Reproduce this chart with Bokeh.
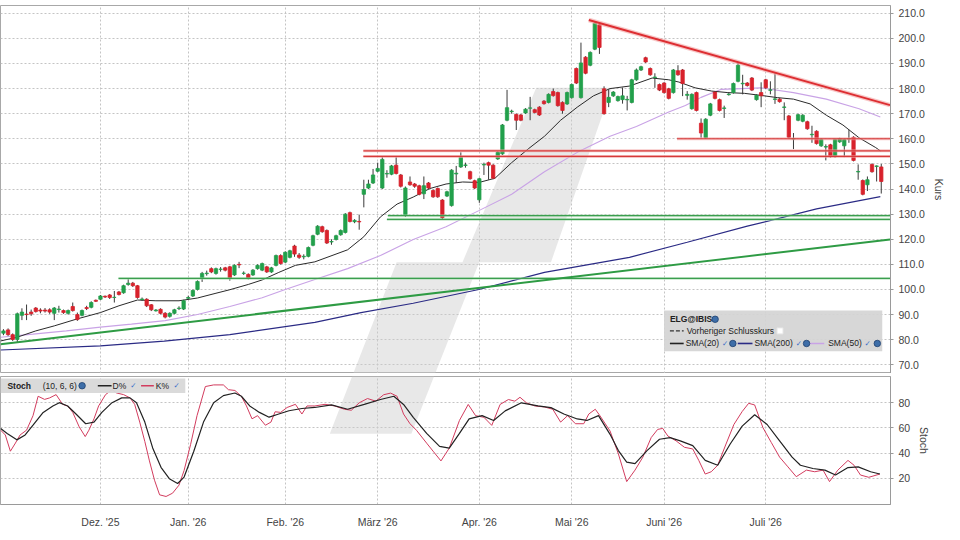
from bokeh.plotting import figure
from bokeh.layouts import column
from bokeh.models import FixedTicker, NumeralTickFormatter, Range1d
from bokeh.core.properties import value
from bokeh.embed import file_html
from bokeh.resources import INLINE

# ---------------- data ----------------
first_day = -21
opens = [82.6, 83.9, 82.0, 80.1, 89.7, 90.2, 91.0, 92.6, 91.8, 91.8, 91.9, 90.5, 92.0, 91.6, 90.5, 93.2, 90.0, 89.7, 92.8, 92.9, 95.7,
         96.1, 97.3, 97.8, 96.8, 99.0, 98.7, 102.0, 102.5, 101.5, 96.0, 96.1, 93.9, 91.5, 92.1, 90.5, 89.3, 90.5, 92.4, 92.2, 96.5,
         97.4, 100.0, 104.5, 106.3, 108.3, 106.4, 108.0, 108.6, 109.0, 105.8, 110.0, 106.4, 106.0, 105.8, 108.3, 107.7, 109.0, 107.0,
         109.6, 113.5, 110.9, 112.8, 117.3, 113.7, 113.0, 113.2, 117.6, 122.0, 125.0, 123.5, 118.9, 119.9, 121.8, 122.7, 130.6, 127.0,
         127.1, 137.9, 140.4, 142.4, 147.1, 140.4, 146.0, 145.9, 149.5, 145.6, 129.5, 142.8, 142.0, 141.3, 138.1, 142.4, 139.4, 140.2,
         135.6, 137.2, 133.4, 146.0, 148.8, 149.4, 146.9, 143.3, 135.7, 149.6, 150.5, 149.5, 152.0, 154.0, 167.4, 170.8, 169.7, 169.5,
         170.3, 172.2, 171.6, 172.6, 175.0, 174.5, 178.8, 178.4, 174.5, 173.9, 176.4, 188.0, 176.4, 192.5, 189.3, 195.7, 205.4, 179.9,
         174.5, 177.1, 175.2, 175.6, 175.5, 174.5, 183.5, 187.4, 192.3, 188.0, 184.4, 181.6, 182.2, 179.9, 178.4, 187.1, 187.4, 177.3,
         172.0, 178.4, 166.2, 160.4, 169.4, 178.6, 175.6, 172.1, 177.6, 178.4, 182.9, 181.9, 182.2, 184.2, 175.6, 178.4, 183.5, 179.3,
         175.7, 175.8, 172.5, 169.1, 159.9, 167.4, 167.0, 166.8, 161.6, 163.0, 157.2, 156.7, 157.6, 152.9, 158.8, 157.2, 159.9, 160.6,
         146.8, 143.4, 141.7, 149.8, 149.0, 148.8]
highs = [84.2, 84.5, 82.5, 90.8, 92.5, 94.0, 92.0, 93.0, 92.5, 92.6, 92.5, 93.0, 93.5, 92.0, 92.0, 94.8, 90.8, 92.0, 93.5, 95.3, 96.0,
         97.8, 97.6, 98.2, 99.4, 99.4, 101.9, 104.5, 103.0, 101.8, 96.8, 96.5, 94.2, 92.2, 92.5, 91.0, 90.9, 92.3, 93.3, 95.9, 97.5,
         100.0, 103.6, 107.0, 107.5, 108.8, 108.7, 108.9, 109.0, 109.4, 110.0, 111.0, 107.2, 106.4, 108.1, 110.0, 110.7, 109.4, 109.0,
         113.9, 114.0, 115.2, 115.8, 117.8, 114.5, 114.0, 117.1, 121.8, 125.6, 125.4, 123.9, 120.0, 121.8, 123.9, 130.4, 131.0, 128.0,
         129.8, 143.7, 143.7, 148.0, 150.5, 152.7, 147.5, 149.6, 152.7, 146.0, 141.0, 145.0, 142.4, 141.7, 145.0, 142.8, 139.8, 140.6,
         136.0, 139.3, 147.9, 149.2, 154.6, 150.5, 147.3, 143.7, 144.5, 150.5, 150.9, 149.9, 155.0, 165.9, 179.5, 171.6, 170.1, 169.9,
         172.2, 176.7, 172.0, 173.0, 175.4, 178.1, 180.0, 178.8, 174.9, 178.8, 182.0, 188.4, 198.3, 192.9, 194.8, 206.4, 205.8, 180.9,
         179.6, 179.0, 177.2, 180.4, 177.1, 183.9, 188.0, 189.1, 192.7, 188.4, 186.1, 182.0, 182.6, 180.3, 187.8, 189.3, 187.8, 179.0,
         178.1, 178.8, 168.1, 168.2, 174.3, 179.0, 176.0, 173.2, 178.2, 182.4, 190.2, 185.5, 182.6, 184.6, 177.7, 182.5, 183.9, 182.9,
         186.1, 176.2, 174.5, 169.5, 162.3, 170.0, 169.8, 167.2, 165.2, 163.4, 160.1, 157.8, 158.0, 160.1, 160.4, 160.1, 163.6, 161.0,
         149.8, 143.8, 145.0, 150.2, 149.4, 150.0]
lows = [81.8, 81.5, 79.5, 79.0, 87.8, 87.8, 89.5, 90.8, 90.5, 90.8, 90.3, 87.8, 90.8, 90.3, 90.0, 91.2, 87.5, 89.3, 91.8, 92.5, 95.0,
        95.8, 96.6, 96.2, 94.8, 97.6, 98.3, 101.5, 101.0, 96.3, 95.5, 93.0, 91.4, 91.2, 90.1, 88.5, 88.8, 90.1, 91.8, 91.8, 96.0,
        97.0, 99.6, 103.0, 105.5, 106.5, 105.9, 107.1, 107.2, 103.5, 105.4, 108.5, 105.8, 104.0, 105.4, 107.9, 107.3, 106.6, 106.6,
        109.2, 109.9, 110.5, 112.4, 113.0, 112.2, 112.0, 112.8, 117.2, 121.6, 122.6, 118.1, 117.8, 119.5, 121.4, 122.3, 126.7, 126.4,
        123.8, 132.7, 140.0, 142.0, 146.7, 140.0, 144.5, 145.5, 145.8, 140.6, 128.9, 141.3, 140.5, 137.5, 136.0, 140.0, 136.5, 136.5,
        128.0, 136.8, 133.0, 142.4, 148.4, 148.5, 143.7, 140.0, 134.5, 145.6, 143.7, 143.9, 151.6, 153.6, 167.0, 170.0, 163.5, 167.0,
        169.9, 167.4, 170.1, 169.1, 173.6, 174.1, 176.8, 172.8, 170.0, 173.5, 176.0, 181.8, 176.0, 185.7, 188.9, 195.3, 193.8, 169.6,
        172.6, 176.7, 174.8, 174.0, 171.3, 174.1, 183.1, 187.0, 190.2, 185.1, 180.3, 179.0, 178.0, 175.7, 178.0, 185.1, 177.0, 175.6,
        171.6, 170.9, 160.4, 160.0, 169.0, 175.7, 170.9, 168.3, 177.2, 178.0, 182.5, 177.7, 180.8, 179.0, 175.2, 172.6, 179.9, 177.7,
        173.9, 174.4, 167.4, 160.2, 155.9, 167.0, 166.6, 163.6, 158.4, 157.7, 156.8, 151.4, 152.5, 152.5, 158.4, 152.7, 158.4, 151.0,
        143.7, 137.5, 139.2, 146.5, 143.0, 138.2]
closes = [83.5, 82.0, 80.1, 90.3, 91.0, 90.0, 90.3, 91.2, 91.4, 91.4, 91.0, 92.6, 92.2, 90.8, 91.6, 91.6, 88.0, 91.6, 92.4, 94.8, 95.3,
          97.4, 97.0, 96.8, 96.9, 98.0, 101.5, 102.5, 101.5, 96.8, 96.2, 93.5, 91.9, 91.8, 90.5, 89.0, 90.5, 91.9, 92.6, 95.5, 96.8,
          99.6, 103.2, 106.4, 106.5, 107.0, 108.3, 108.1, 107.7, 104.5, 109.6, 109.8, 106.5, 104.5, 107.7, 109.6, 110.3, 107.0, 108.6,
          113.5, 110.3, 114.8, 115.4, 114.1, 112.8, 113.2, 116.7, 121.4, 125.2, 123.0, 118.5, 119.1, 121.4, 123.5, 130.0, 127.1, 127.5,
          126.9, 139.8, 142.0, 145.6, 148.2, 151.8, 146.2, 149.2, 146.2, 141.1, 140.4, 141.7, 141.1, 137.9, 141.3, 140.4, 136.9, 136.9,
          128.6, 138.9, 147.5, 146.3, 152.7, 149.6, 144.1, 140.4, 144.1, 149.8, 149.5, 144.3, 154.6, 165.5, 172.4, 171.0, 167.4, 167.4,
          171.8, 172.3, 170.5, 169.5, 174.0, 177.7, 177.2, 173.2, 171.3, 178.4, 181.6, 182.2, 190.2, 186.1, 194.4, 206.0, 196.4, 170.0,
          176.5, 178.6, 176.8, 177.1, 175.7, 183.5, 187.4, 188.7, 190.6, 185.5, 184.6, 179.4, 178.4, 176.1, 187.4, 185.5, 182.0, 177.7,
          177.7, 171.3, 162.3, 167.8, 173.9, 176.1, 171.3, 172.3, 177.8, 182.0, 189.3, 182.1, 181.2, 179.4, 177.3, 177.1, 180.3, 179.5,
          175.9, 174.8, 172.7, 160.6, 160.1, 169.6, 169.4, 164.0, 161.8, 158.1, 159.7, 156.9, 152.9, 159.7, 160.0, 159.7, 160.1, 151.4,
          147.0, 137.9, 143.7, 146.9, 149.2, 143.0]

sma20_idx = [-21.6, -18, -14, -10, -5, 0, 4, 8, 12, 17, 21, 25, 28, 32, 35, 38.6, 42.2, 46.4, 53.5, 57, 60.6, 64.2, 67.7, 71.3,
             74.8, 78.4, 81.9, 85.4, 89, 92.6, 96.1, 99.6, 103.2, 106.7, 110.3, 114.5, 119.4, 123, 125.2, 128.7, 132.3, 135.8,
             139.4, 142.9, 146.5, 150, 153.6, 157.1, 160.7, 164.2, 167.8, 168.8]
sma20_val = [79.5, 81.0, 83.5, 85.5, 88.3, 90.8, 93.5, 95.8, 95.5, 95.5, 96.6, 98.5, 99.9, 102.0, 103.8, 106.8, 109.6, 111.0, 115.8,
             121.0, 128.9, 134.0, 136.8, 140.2, 142.0, 142.8, 142.6, 144.3, 150.5, 156.0, 161.0, 167.4, 172.6, 177.1, 180.0, 181.0,
             184.2, 183.5, 182.6, 180.3, 179.0, 178.4, 178.1, 177.3, 176.4, 175.8, 173.9, 169.4, 165.5, 160.4, 156.5, 155.2]
sma50_idx = [-21.6, -14.6, -7.4, 0, 6.7, 14, 21, 28, 35, 40, 46.4, 53.5, 60.6, 67.7, 74.8, 81.9, 89, 96.1, 103.2, 110.3, 116,
             123, 126.6, 130, 134.4, 142.9, 150, 157.1, 164.2, 168.8]
sma50_val = [81.0, 82.2, 83.5, 85.0, 86.2, 87.6, 90.0, 93.2, 96.7, 100.0, 104.0, 108.3, 113.5, 119.9, 125.0, 131.4, 137.9, 146.9,
             154.6, 161.0, 164.9, 170.7, 173.3, 176.5, 179.7, 180.3, 178.4, 175.8, 172.0, 168.7]
sma200_idx = [-21.6, 0, 13.8, 28, 46.4, 56.4, 67.7, 81.9, 96.1, 114.5, 127, 140, 155, 168.8]
sma200_val = [75.9, 77.5, 79.4, 82.0, 86.9, 90.8, 94.5, 100.0, 106.8, 112.8, 118.8, 125.2, 132.1, 137.0]

k_idx = [-21.6, -20.6, -19.5, -18.4, -17.4, -16, -14.6, -13.5, -12.1, -11, -9.6, -8.2, -7.1, -6, -4.6, -3.3, -2.5, -1.4, -0.4,
         1.1, 2.5, 3.5, 5, 6.4, 7.4, 8.5, 9.6, 10.6, 11.7, 12.8, 14.2, 15.6, 17, 18.1, 19.5, 20.9, 22.7, 24.5, 26.6, 27.7, 29.1,
         30.5, 31.6, 32.8, 34, 35.7, 36.9, 37.8, 39, 40.4, 42.2, 43.6, 44.7, 46.4, 48.6, 50.7, 52.8, 54.3, 56, 57.8, 59.6, 61.3,
         62.8, 64.2, 65.6, 67, 68.4, 70.6, 72, 73.7, 75.5, 77.7, 79.6, 81.2, 83, 84.7, 86.5, 88.3, 89.7, 90.8, 92.2, 94, 96.1,
         97.9, 99.6, 101.1, 102.8, 104.6, 105.7, 107.1, 108.1, 110.3, 112.1, 113.9, 115.7, 117.4, 119.2, 120.6, 121.7, 122.8,
         124.6, 126.4, 128.2, 129.5, 130.9, 132.2, 133.6, 135.4, 137.1, 138.9, 140.3, 141.6, 143.4, 145.2, 147, 148.8, 150.6,
         152.8, 154.6, 156.4, 157.8, 159.6, 161.8, 163.1, 164.5, 166.3, 168.7]
k_val = [58.2, 54.4, 41.5, 48, 54.4, 58.2, 69.7, 85.1, 82.6, 83.8, 86.4, 78.7, 77.4, 72.3, 60.8, 53.1, 58.2, 67.2, 77.4, 86.4,
         90.3, 87.7, 86.4, 83.8, 78.7, 64.6, 49.2, 33.8, 18.5, 6.9, 5.6, 8.2, 14.6, 26.2, 46.7, 69.7, 92.8, 94.1, 94.1, 90.3,
         89.7, 85.1, 77.4, 67.2, 69.7, 62.1, 64.6, 72.8, 72.3, 76.2, 78.7, 71, 77.4, 77.4, 78.7, 77.4, 74.8, 74, 79.9, 83.3,
         81.2, 86.3, 87.6, 85.1, 71, 63.3, 58.1, 47.9, 41.5, 33.8, 44, 65.9, 78.6, 69.7, 68.4, 62, 78.6, 82.5, 81.2, 84.3,
         79.9, 77.4, 76.6, 74.8, 64.6, 69.7, 63.3, 63.3, 71, 74.8, 69.7, 57.5, 39.4, 17.4, 26.5, 36.8, 52.3, 58.8, 59.6, 53.6,
         49.7, 44.6, 43.3, 34.2, 23.4, 25.2, 30.4, 47.2, 62.7, 73, 79.5, 78.2, 60.1, 48.4, 36.8, 29.1, 21.3, 26.5, 25.2, 26.5,
         17.4, 26.5, 34.2, 30.4, 22.6, 20.8, 23.4]
d_idx = [-21.6, -20.2, -18.1, -16.3, -14.6, -12.4, -10.3, -8.9, -7.1, -5.3, -3.2, -1.4, 0.3, 2.5, 4.6, 6.4, 7.8, 9.6, 11.3,
         13.1, 14.9, 16.7, 18.1, 20.2, 22.3, 24.5, 26.6, 29.1, 30.5, 32.3, 34.4, 36.5, 38.6, 40.8, 43.6, 46.4, 50, 53.5, 57.1,
         60.6, 63.5, 65.6, 67.7, 70.6, 73.4, 75.5, 77.7, 79.8, 82.6, 85.1, 87.6, 91.1, 94.7, 97.5, 100.3, 103.2, 105.3, 107.8,
         110.3, 112.1, 113.9, 115.7, 118.3, 121, 123.3, 125.5, 128.2, 130.9, 133.6, 136.3, 138.9, 141.6, 144.3, 147, 149.7,
         151.5, 154.2, 156.8, 159.1, 161.8, 164, 166.7, 168.7]
d_val = [59.5, 55.6, 50.5, 54.4, 62.1, 72.3, 77.4, 80, 77.4, 71, 63.3, 64.6, 72.3, 80, 83.8, 83.8, 80, 64.6, 44.1, 28.7, 19.7,
         15.9, 21, 41.5, 64.6, 80, 85.6, 87.7, 85.1, 77.4, 72.3, 68.5, 71, 73.6, 75.4, 76.2, 78.2, 74.8, 78.6, 82.5, 85.1, 78.6,
         68.4, 55.6, 45.3, 44, 55.6, 67.1, 69.7, 65.9, 73.5, 79.9, 77.4, 76.1, 71, 67.1, 65.9, 69.7, 54.9, 42, 32.9, 31.6, 42,
         51, 52.3, 49.7, 45.9, 34.2, 30.4, 47.2, 61.4, 70.4, 62.7, 49.7, 36.8, 30.4, 27.8, 26.5, 22.6, 28.5, 29.1, 25.2, 23.4]

# drawn analysis lines (level, start day)
red_levels = [155.2, 153.0, 160.0]
red_starts = [56.9, 56.9, 124.8]
green_levels = [129.4, 127.9, 104.4]
green_starts = [62.2, 62.0, 3.9]
red_trend_idx = [105.7, 170.9]
red_trend_val = [207.3, 173.4]
green_trend_idx = [-21.64, 170.9]
green_trend_val = [78.2, 119.9]

month_idx = [0, 19, 40, 60, 82, 102, 122, 144]
month_labels = ["Dez. '25", "Jan. '26", "Feb. '26", "März '26", "Apr. '26", "Mai '26", "Juni '26", "Juli '26"]
price_ticks = list(range(70, 211, 10))
stoch_ticks = [20, 40, 60, 80]

# ---------------- helpers (reference-pixel placement) ----------------
def ref_x(px):
    return (px - 101.7) / 4.7

def ref_price(py):
    return 210.0 - (py - 13.0) / 2.593

def ref_stoch(py):
    return 80.0 - (py - 415.0) / 1.3

FONT = "Liberation Sans"
GREEN = "#22a04b"
RED = "#d8222c"
GRIDC = "#c4c4c4"
FRAME_W = 890
XR = (ref_x(0), ref_x(905.4))

logo_px = [(335, 447), (403, 270), (470, 270), (545, 90), (622, 90), (560, 270), (487, 270), (418, 447)]


def style_common(f):
    f.outline_line_color = "#a8a8a8"
    f.background_fill_color = "white"
    f.border_fill_color = "white"
    f.xgrid.ticker = FixedTicker(ticks=month_idx)
    f.xgrid.grid_line_color = GRIDC
    f.xgrid.grid_line_dash = "2 2"
    f.ygrid.grid_line_color = GRIDC
    f.ygrid.grid_line_dash = "2 2"
    ax = f.yaxis[0]
    ax.axis_line_color = "#9a9a9a"
    ax.major_tick_line_color = "#9a9a9a"
    ax.major_tick_out = 3
    ax.major_tick_in = 0
    ax.minor_tick_line_color = None
    ax.major_label_text_font = FONT
    ax.major_label_text_font_size = "10.5px"
    ax.major_label_text_color = "#444444"
    ax.major_label_standoff = 5
    ax.axis_label_text_font = FONT
    ax.axis_label_text_font_size = "10.5px"
    ax.axis_label_text_font_style = "normal"
    ax.axis_label_text_color = "#444444"
    ax.axis_label_standoff = 5


# ---------------- price panel ----------------
p = figure(frame_width=FRAME_W, frame_height=368,
           x_range=Range1d(*XR), y_range=Range1d(ref_price(385), ref_price(5)),
           y_axis_location="right", output_backend="svg", toolbar_location=None,
           min_border_left=0, min_border_right=54, min_border_top=5, min_border_bottom=0)
style_common(p)
p.xaxis.visible = False
p.yaxis.ticker = FixedTicker(ticks=price_ticks)
p.ygrid.ticker = FixedTicker(ticks=price_ticks)
p.yaxis.formatter = NumeralTickFormatter(format="0.0")
p.yaxis.axis_label = "Kurs"

# watermark
p.patch([ref_x(a) for a, b in logo_px], [ref_price(b) for a, b in logo_px],
        fill_color="#cdcdcd", fill_alpha=0.45, line_color=None)

# moving averages
p.line(sma200_idx, sma200_val, line_color="#2b2b85", line_width=1.2)
p.line(sma50_idx, sma50_val, line_color="#c9a3e6", line_width=1.1)
p.line(sma20_idx, sma20_val, line_color="#2a2a2a", line_width=1.0)

# candles
days = list(range(first_day, first_day + len(closes)))
tops = [max(o, c) for o, c in zip(opens, closes)]
bots = [min(o, c) for o, c in zip(opens, closes)]
cols = [GREEN if c >= o else RED for o, c in zip(opens, closes)]
p.segment(x0=days, y0=lows, x1=days, y1=highs, line_color="#3a3a3a", line_width=1)
p.vbar(x=days, width=0.72, top=tops, bottom=bots, fill_color=cols, line_color=cols, line_width=0.8)

# analysis lines
right_end = XR[1]
for lev, st in zip(red_levels, red_starts):
    p.line([st, right_end], [lev, lev], line_color="#f2a0a0", line_width=3, line_alpha=0.6)
    p.line([st, right_end], [lev, lev], line_color="#d63a3a", line_width=1.1)
for lev, st in zip(green_levels, green_starts):
    p.line([st, right_end], [lev, lev], line_color="#a8dcb0", line_width=3, line_alpha=0.5)
    p.line([st, right_end], [lev, lev], line_color="#3a9e4e", line_width=1.1)
p.line(red_trend_idx, red_trend_val, line_color="#f3a3a3", line_width=4.5, line_alpha=0.6)
p.line(red_trend_idx, red_trend_val, line_color="#dd2e32", line_width=2)
p.line(green_trend_idx, green_trend_val, line_color="#2e9b44", line_width=2)

# legend box (price)
p.quad(left=[ref_x(675)], right=[ref_x(897)], top=[ref_price(320)], bottom=[ref_price(362)],
       fill_color="#d4d4d4", fill_alpha=0.92, line_color=None)
r1, r2, r3 = ref_price(329), ref_price(341), ref_price(354)
p.text(x=[ref_x(681)], y=[r1], text=["ELG@IBIS"], text_font=value(FONT), text_font_size=value("8.5px"),
       text_font_style="bold", text_baseline="middle", text_align="left", text_color="#222222")
p.segment(x0=[ref_x(681)], y0=[r2], x1=[ref_x(695)], y1=[r2], line_color="#333333", line_width=1.3, line_dash="4 2")
p.segment(x0=[ref_x(681), ref_x(750), ref_x(823)], y0=[r3] * 3, x1=[ref_x(695), ref_x(765), ref_x(838)], y1=[r3] * 3,
          line_color=["#222222", "#2b2b85", "#c9a3e6"], line_width=1.6)
p.text(x=[ref_x(698), ref_x(697), ref_x(767), ref_x(842)], y=[r2, r3, r3, r3],
       text=["Vorheriger Schlusskurs", "SMA(20)", "SMA(200)", "SMA(50)"],
       text_font=value(FONT), text_font_size=value("8.5px"), text_baseline="middle", text_align="left",
       text_color="#222222")
p.text(x=[ref_x(734), ref_x(809), ref_x(879)], y=[r3] * 3, text=["✓"] * 3, text_font=value("DejaVu Sans"),
       text_font_size=value("7.5px"), text_baseline="middle", text_align="left", text_color="#3a6fc9")
p.scatter(x=[ref_x(727), ref_x(745), ref_x(820), ref_x(892)], y=[r1, r3, r3, r3], marker="circle", size=6.5,
          fill_color="#3e6ea8", line_color="#20406e", line_width=0.8)
p.scatter(x=[ref_x(793)], y=[r2], marker="square", size=6, fill_color="white", line_color="#e6e6e6")

# ---------------- stochastic panel ----------------
s = figure(frame_width=FRAME_W, frame_height=128,
           x_range=Range1d(*XR), y_range=Range1d(ref_stoch(520), ref_stoch(388)),
           y_axis_location="right", output_backend="svg", toolbar_location=None,
           min_border_left=0, min_border_right=54, min_border_top=3, min_border_bottom=0)
style_common(s)
s.yaxis.ticker = FixedTicker(ticks=stoch_ticks)
s.ygrid.ticker = FixedTicker(ticks=stoch_ticks)
s.yaxis.axis_label = "Stoch"
xa = s.xaxis[0]
xa.ticker = FixedTicker(ticks=month_idx)
xa.major_label_overrides = {m: lab for m, lab in zip(month_idx, month_labels)}
xa.axis_line_color = "#9a9a9a"
xa.major_tick_line_color = None
xa.minor_tick_line_color = None
xa.major_label_text_font = FONT
xa.major_label_text_font_size = "10.5px"
xa.major_label_text_color = "#444444"
xa.major_label_standoff = 5

s.patch([ref_x(a) for a, b in logo_px], [ref_stoch(b) for a, b in logo_px],
        fill_color="#cdcdcd", fill_alpha=0.45, line_color=None)
s.line(k_idx, k_val, line_color="#d23c5e", line_width=1.0)
s.line(d_idx, d_val, line_color="#222222", line_width=1.2)

ys = ref_stoch(397.5)
s.quad(left=[ref_x(0)], right=[ref_x(188)], top=[ref_stoch(390)], bottom=[ref_stoch(405)],
       fill_color="#d8d8d8", fill_alpha=0.95, line_color=None)
s.text(x=[ref_x(7)], y=[ys], text=["Stoch"], text_font=value(FONT), text_font_size=value("8.5px"),
       text_font_style="bold", text_baseline="middle", text_align="left", text_color="#222222")
s.text(x=[ref_x(43), ref_x(114), ref_x(158)], y=[ys] * 3, text=["(10, 6, 6)", "D%", "K%"],
       text_font=value(FONT), text_font_size=value("8.5px"), text_baseline="middle", text_align="left",
       text_color="#222222")
s.segment(x0=[ref_x(99), ref_x(143)], y0=[ys, ys], x1=[ref_x(113), ref_x(156)], y1=[ys, ys],
          line_color=["#222222", "#d23c5e"], line_width=1.6)
s.text(x=[ref_x(132), ref_x(176)], y=[ys, ys], text=["✓", "✓"], text_font=value("DejaVu Sans"),
       text_font_size=value("7.5px"), text_baseline="middle", text_align="left", text_color="#3a6fc9")
s.scatter(x=[ref_x(83)], y=[ys], marker="circle", size=6.5, fill_color="#3e6ea8", line_color="#20406e",
          line_width=0.8)

layout = column(p, s, spacing=0)
open("out.html", "w").write(file_html(layout, INLINE))
